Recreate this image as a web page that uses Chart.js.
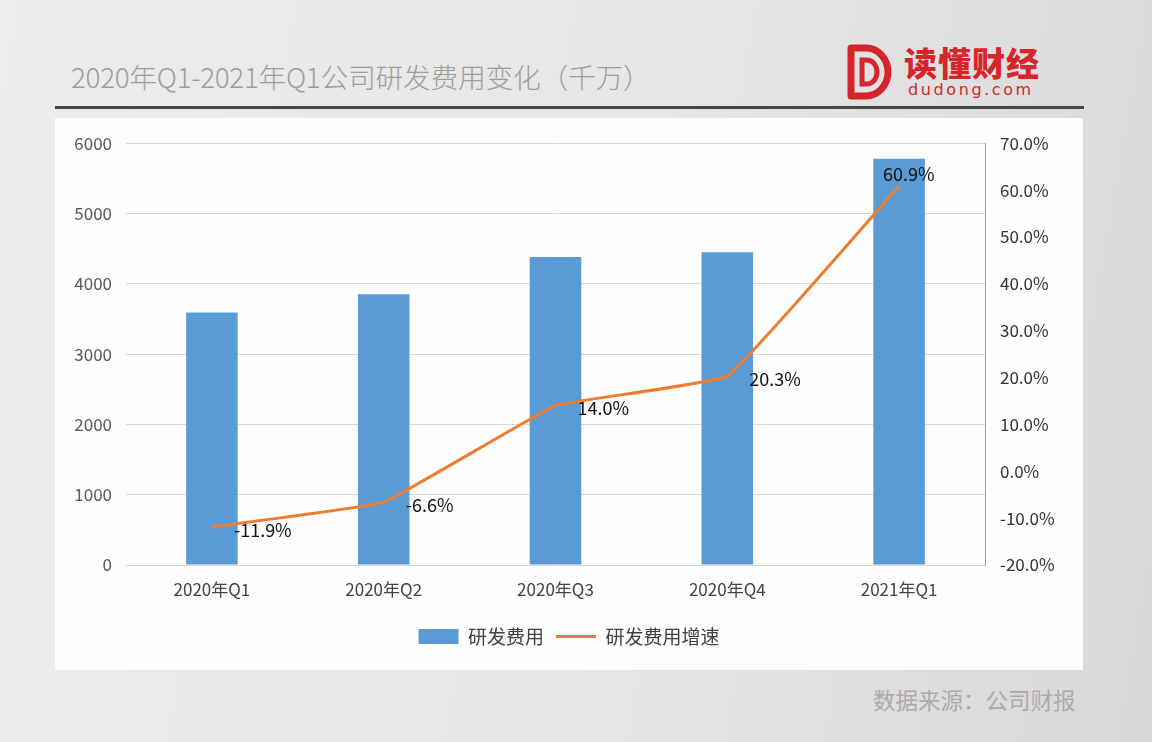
<!DOCTYPE html>
<html>
<head>
<meta charset="utf-8">
<script src="https://cdn.jsdelivr.net/npm/chart.js@4/dist/chart.umd.min.js"></script>
<style>
  html, body { margin:0; padding:0; }
  body { width:1152px; height:742px; position:relative; overflow:hidden;
    background: linear-gradient(100deg, #ececec 0%, #e6e6e6 55%, #d8d8d8 100%);
    font-family: "Noto Sans CJK SC", "Noto Sans", sans-serif; }
  #title { position:absolute; left:71px; top:56px; font-size:27.8px; color:#9e9e9e; font-weight:300; white-space:nowrap; letter-spacing:-0.3px; }
  #rule { position:absolute; left:55px; top:106px; width:1029px; height:3px; background:#454545; }
  #panel { position:absolute; left:55px; top:118px; width:1028px; height:552px; background:#fdfdfd; }
  #logo { position:absolute; left:846px; top:42px; }
  #brand { position:absolute; left:904px; top:42px; font-size:33px; font-weight:900; color:#d7262b; letter-spacing:1px; white-space:nowrap; line-height:40px; }
  #domain { position:absolute; left:908px; top:80px; font-size:16px; color:#d7262b; letter-spacing:2.6px; white-space:nowrap; font-family:"DejaVu Sans", sans-serif; }
  #source { position:absolute; left:873px; top:683px; font-size:22.5px; color:#ababab; white-space:nowrap; }
</style>
</head>
<body>
<div id="title">2020年Q1-2021年Q1公司研发费用变化（千万）</div>
<svg id="logo" width="48" height="60" viewBox="0 0 48 60">
  <path d="M5 6 H20 A22 24 0 0 1 20 54 H5 Z" fill="none" stroke="#d7262b" stroke-width="7" stroke-linejoin="round"/>
  <path d="M16 18 H21 A10 12 0 0 1 21 42 H16 Z" fill="none" stroke="#d7262b" stroke-width="5"/>
</svg>
<div id="brand">读懂财经</div>
<div id="domain">dudong.com</div>
<div id="rule"></div>
<div id="panel"><canvas id="c" width="1028" height="552"></canvas></div>
<div id="source">数据来源：公司财报</div>
<script>
const categories = ["2020年Q1", "2020年Q2", "2020年Q3", "2020年Q4", "2021年Q1"];
const rdExpense = [3590, 3850, 4380, 4450, 5780];
const rdGrowth = [-11.9, -6.6, 14.0, 20.3, 60.9];
const leftTicks = [0, 1000, 2000, 3000, 4000, 5000, 6000];
const rightTicks = [-20, -10, 0, 10, 20, 30, 40, 50, 60, 70];

const labelPlugin = {
  id: 'growthLabels',
  afterDatasetsDraw(chart) {
    const meta = chart.getDatasetMeta(1);
    const ctx = chart.ctx;
    ctx.save();
    ctx.font = '18px "Noto Sans CJK SC", sans-serif';
    ctx.fillStyle = '#111';
    ctx.textAlign = 'left';
    ctx.textBaseline = 'middle';
    meta.data.forEach((pt, i) => {
      const txt = rdGrowth[i].toFixed(1) + '%';
      const last = i === meta.data.length - 1;
      const x = last ? pt.x - 16 : pt.x + 22;
      const y = last ? pt.y - 12 : pt.y + 3;
      ctx.fillText(txt, x, y);
    });
    ctx.restore();
  }
};

new Chart(document.getElementById('c'), {
  data: {
    labels: categories,
    datasets: [
      { type: 'bar', label: '研发费用', data: rdExpense, yAxisID: 'y',
        backgroundColor: '#5b9bd5', borderWidth: 0, pointStyle: 'rect',
        categoryPercentage: 1.0, barPercentage: 0.3, order: 2 },
      { type: 'line', label: '研发费用增速', data: rdGrowth, yAxisID: 'y1',
        borderColor: '#ed7d31', backgroundColor: '#ed7d31', borderWidth: 3,
        pointRadius: 0, pointHoverRadius: 0, pointStyle: 'line', tension: 0.08, order: 1 }
    ]
  },
  options: {
    responsive: false,
    animation: false,
    layout: { padding: { top: 23, bottom: 14, left: 0, right: 0 } },
    plugins: {
      tooltip: { enabled: false },
      legend: {
        position: 'bottom',
        labels: {
          sort: (a, b) => a.datasetIndex - b.datasetIndex,
          usePointStyle: true, pointStyleWidth: 40, boxHeight: 15,
          padding: 12, color: '#404040',
          font: { size: 19, family: '"Noto Sans CJK SC", sans-serif' }
        }
      }
    },
    scales: {
      x: {
        grid: { display: false, drawTicks: false },
        border: { display: false },
        ticks: { color: '#444', padding: 14, maxRotation: 0,
          font: { size: 17, family: '"Noto Sans CJK SC", sans-serif' } },
        afterFit(s) { s.height = 50; }
      },
      y: {
        position: 'left', min: 0, max: 6000,
        afterBuildTicks(s) { s.ticks = leftTicks.map(v => ({ value: v })); },
        grid: { color: '#d9d9d9', drawTicks: false, lineWidth: 1 },
        border: { display: false },
        ticks: { color: '#595959', padding: 14, callback: v => String(v),
          font: { size: 17, family: '"Noto Sans CJK SC", sans-serif' } },
        afterFit(s) { s.width = 71; }
      },
      y1: {
        position: 'right', min: -20, max: 70,
        afterBuildTicks(s) { s.ticks = rightTicks.map(v => ({ value: v })); },
        grid: { display: false, drawTicks: false },
        border: { display: true, color: '#9a9a9a', width: 1 },
        ticks: { color: '#333', padding: 15, callback: v => v.toFixed(1) + '%',
          font: { size: 17, family: '"Noto Sans CJK SC", sans-serif' } },
        afterFit(s) { s.width = 98; }
      }
    }
  },
  plugins: [labelPlugin]
});
</script>
</body>
</html>
